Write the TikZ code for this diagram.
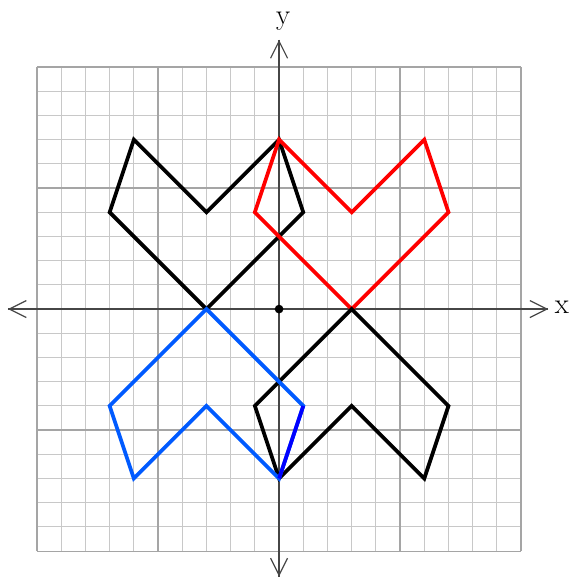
\documentclass[tikz,border=0pt]{standalone}
\usetikzlibrary{arrows.meta}
\definecolor{minorgray}{RGB}{200,200,200}
\definecolor{majorgray}{RGB}{165,165,165}
\definecolor{axisgray}{RGB}{70,70,70}
\definecolor{shapered}{RGB}{255,0,0}
\definecolor{shapeblue}{RGB}{0,90,255}
\definecolor{deepblue}{RGB}{0,0,255}
\tikzset{
  minorgrid/.style={draw=minorgray, line width=0.6pt},
  majorgrid/.style={draw=majorgray, line width=0.7pt},
  axisline/.style={draw=axisgray, line width=0.9pt, -{Straight Barb[length=10pt,width=10pt,line width=0.7pt]}},
  figline/.style={line width=2.2pt, line join=miter},
  axislabel/.style={font=\fontsize{17}{19}\selectfont, inner sep=0pt}
}
\begin{document}
\begin{tikzpicture}[x=0.5cm,y=0.5cm]
\useasboundingbox (-11.53,-11.07) rectangle (12.11,12.77);
% grid
\draw[minorgrid] (-10,-10) grid[step=1] (10,10);
\draw[majorgrid] (-10,-10) grid[step=5] (10,10);
% axes
\coordinate (xl) at (-11.2,0);
\coordinate (xr) at (11.12,0);
\coordinate (yb) at (0,-11.05);
\coordinate (yt) at (0,11.12);
\draw[axisline] (xr) -- (xl);
\draw[axisline] (xl) -- (xr);
\draw[axisline] (yt) -- (yb);
\draw[axisline] (yb) -- (yt);
\node[axislabel] (xlab) at (11.69,0.08) {x};
\node[axislabel] (ylab) at (0.17,11.9) {y};
% upper left black
\draw[figline, black] (-6,7) -- (-3,4) -- (0,7) -- (1,4) -- (-3,0) -- (-7,4) -- cycle;
% red
\draw[figline, shapered] (0,7) -- (3,4) -- (6,7) -- (7,4) -- (3,0) -- (-1,4) -- cycle;
% lower right black
\draw[figline, black] (3,0) -- (7,-4) -- (6,-7) -- (3,-4) -- (0,-7) -- (-1,-4) -- cycle;
% blue
\draw[figline, shapeblue] (-3,0) -- (1,-4) -- (0,-7) -- (-3,-4) -- (-6,-7) -- (-7,-4) -- cycle;
\draw[figline, deepblue] (1,-4) -- (0,-7);
% origin dot
\fill[black] (0,0) circle (0.18);
\end{tikzpicture}
\end{document}
